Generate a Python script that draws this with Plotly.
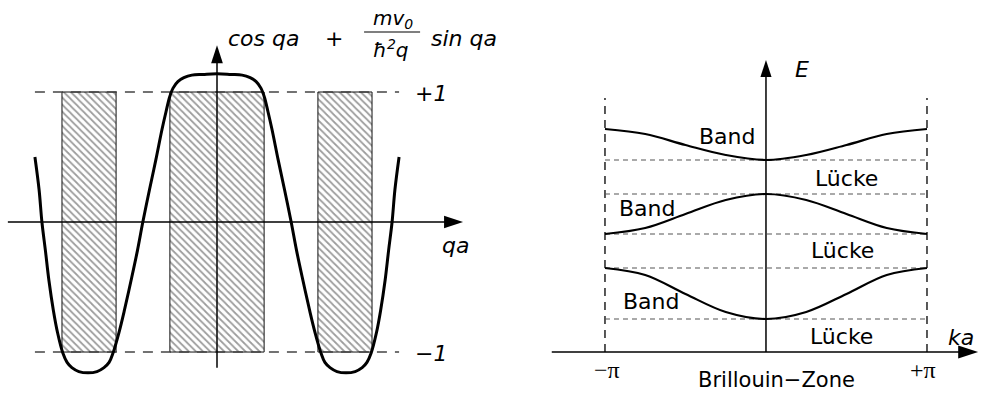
import math
import plotly.graph_objects as go

PI = math.pi
FONT = "DejaVu Sans"

# ---------- left panel: cos qa + (m v0 / hbar^2 q) sin qa ----------
# the function is even in qa; values for qa <= 0, mirrored below
qa_half = [-5.72, -5.59, -5.50, -5.39, -5.28, -5.14, -5.01, -4.84, -4.71, -4.56,
           -4.34, -4.05, -3.77, -3.55, -3.39, -3.27, -3.08, -2.91, -2.70, -2.50,
           -2.33, -2.12, -1.92, -1.73, -1.60, -1.49, -1.38, -1.23, -1.04, -0.79,
           -0.44, 0.00]
f_half = [0.50, 0.25, 0.00, -0.22, -0.45, -0.68, -0.85, -1.01, -1.08, -1.12,
          -1.15, -1.16, -1.15, -1.12, -1.08, -1.01, -0.85, -0.68, -0.45, -0.22,
          0.00, 0.25, 0.48, 0.71, 0.85, 0.96, 1.03, 1.08, 1.11, 1.13,
          1.135, 1.14]
qa = qa_half + [-v for v in reversed(qa_half[:-1])]
f_qa = f_half + list(reversed(f_half[:-1]))

# qa intervals where |f| > 1 (hatched)
forbidden_lo = [-4.87, -1.48, 3.17]
forbidden_hi = [-3.17, 1.48, 4.87]

levels = [1, -1]
level_labels = ["+1", "\u22121"]

# ---------- right panel: E(ka) in the first Brillouin zone ----------
ka = [-PI, -0.75 * PI, -0.5 * PI, -0.25 * PI, 0.0, 0.25 * PI, 0.5 * PI, 0.75 * PI, PI]
band1 = [3.36, 3.08, 2.32, 1.60, 1.32, 1.60, 2.32, 3.08, 3.36]
band2 = [4.72, 4.96, 5.52, 6.08, 6.32, 6.08, 5.52, 4.96, 4.72]
band3 = [8.92, 8.72, 8.28, 7.88, 7.68, 7.88, 8.28, 8.72, 8.92]
band_edges = [1.32, 3.36, 4.72, 6.32, 7.68]
zone_ticks = [-PI, PI]
zone_labels = ["\u2212\u03c0", "+\u03c0"]

band_label_pos = [(-0.76, 8.64), (-2.32, 5.76), (-2.24, 2.04)]
gap_label_pos = [(1.58, 6.96), (1.50, 4.08), (1.48, 0.64)]

fig = go.Figure()


def line(x, y, ax, color="black", width=1.5, dash="solid", shape="linear"):
    xa, ya = ("x", "y") if ax == 1 else ("x2", "y2")
    fig.add_trace(go.Scatter(x=x, y=y, mode="lines", xaxis=xa, yaxis=ya,
                             line=dict(color=color, width=width, dash=dash, shape=shape,
                                       smoothing=1.0),
                             hoverinfo="skip", showlegend=False))


def arrow_tip(x, y, angle, size, ax):
    xa, ya = ("x", "y") if ax == 1 else ("x2", "y2")
    fig.add_trace(go.Scatter(x=[x], y=[y], mode="markers", xaxis=xa, yaxis=ya,
                             marker=dict(symbol="arrow", angle=angle, size=size,
                                         color="black", line=dict(width=0)),
                             hoverinfo="skip", showlegend=False))


# hatched forbidden regions
for lo, hi in zip(forbidden_lo, forbidden_hi):
    fig.add_trace(go.Scatter(
        x=[lo, hi, hi, lo, lo], y=[-1, -1, 1, 1, -1], mode="lines", fill="toself",
        fillcolor="white",
        fillpattern=dict(shape="\\", size=5, solidity=0.35, fgcolor="#3a3a3a",
                         bgcolor="white"),
        line=dict(color="#111111", width=1), xaxis="x", yaxis="y",
        hoverinfo="skip", showlegend=False))

# dashed +1 / -1 levels
for lv in levels:
    line([qa[0], qa[-1]], [lv, lv], 1, color="#444444", width=1.5, dash="10px,8px")

# axes of the left panel
line([-6.57, 7.6], [0, 0], 1, width=1.5)
arrow_tip(7.73, 0, 90, 20, 1)
line([0, 0], [-1.12, 1.25], 1, width=1.5)
arrow_tip(0, 1.36, 0, 19, 1)

# the function
line(qa, f_qa, 1, width=3, shape="spline")

# ---- right panel ----
for kt in zone_ticks:
    line([kt, kt], [0, 10.16], 2, color="#222222", width=1.5, dash="8px,6px")
for e in band_edges:
    line([ka[0], ka[-1]], [e, e], 2, color="#555555", width=1.2, dash="5px,4px")

line([-4.18, 4.0], [0, 0], 2, width=1.5)
arrow_tip(4.14, 0, 90, 21, 2)
line([0, 0], [0, 11.3], 2, width=1.5)
arrow_tip(0, 11.68, 0, 18, 2)

for band in (band1, band2, band3):
    line(ka, band, 2, width=2.2, shape="spline")

annotations = []


def text(x, y, s, ax, size=22, family=FONT):
    xa, ya = ("x", "y") if ax == 1 else ("x2", "y2")
    annotations.append(dict(x=x, y=y, xref=xa, yref=ya, text=s, showarrow=False,
                            xanchor="center", yanchor="middle",
                            font=dict(family=family, size=size, color="black")))


# formula above the left panel
text(1.45, 1.415, "<i>cos qa</i>", 1, 22)
text(3.68, 1.415, "<i>+</i>", 1, 22)
text(5.53, 1.56, "<i>mv<sub>0</sub></i>", 1, 20)
text(5.47, 1.33, "<i>\u0127<sup>2</sup>q</i>", 1, 20)
text(7.76, 1.415, "<i>sin qa</i>", 1, 22)
line([4.62, 6.38], [1.4615, 1.4615], 1, width=1.2)

for lv, lab in zip(levels, level_labels):
    text(6.72, lv - 0.01, "<i>" + lab + "</i>", 1, 22)
text(7.48, -0.18, "<i>qa</i>", 1, 22)

# right panel labels
text(0.70, 11.32, "<i>E</i>", 2, 22)
for (x, y) in band_label_pos:
    text(x, y, "Band", 2, 22)
for (x, y) in gap_label_pos:
    text(x, y, "L\u00fccke", 2, 22)
for kt, lab in zip(zone_ticks, zone_labels):
    text(kt + (0.04 if kt < 0 else -0.08), -0.72, lab, 2, 24, "Liberation Serif")
text(0.21, -1.1, "Brillouin\u2212Zone", 2, 21)
text(3.80, 0.60, "<i>ka</i>", 2, 22)

hidden = dict(visible=False, showgrid=False, zeroline=False, fixedrange=True)
fig.update_layout(
    width=984, height=393,
    margin=dict(l=0, r=0, t=0, b=0),
    paper_bgcolor="white", plot_bgcolor="white",
    showlegend=False,
    xaxis=dict(domain=[0, 0.5], range=[-6.817, 8.639], anchor="y", **hidden),
    yaxis=dict(domain=[0, 1], range=[-1.315, 1.7077], anchor="x", **hidden),
    xaxis2=dict(domain=[0.5, 1], range=[-5.346, 4.254], anchor="y2", **hidden),
    yaxis2=dict(domain=[0, 1], range=[-1.64, 14.08], anchor="x2", **hidden),
    annotations=annotations,
)

fig.write_html("out.html")
